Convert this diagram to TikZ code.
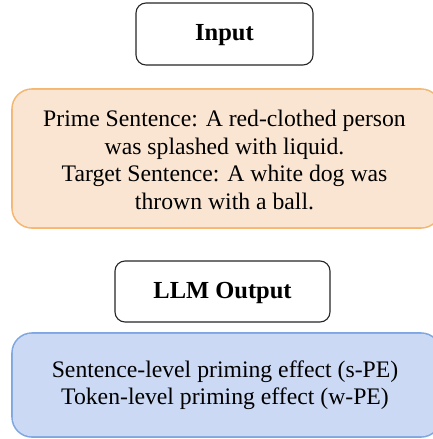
\documentclass[tikz,border=0pt]{standalone}
\usepackage{fontspec}
\setmainfont{Liberation Serif}
\definecolor{peachfill}{RGB}{250,229,210}
\definecolor{peachline}{RGB}{244,182,112}
\definecolor{bluefill}{RGB}{203,217,244}
\definecolor{blueline}{RGB}{126,166,224}
\tikzset{
  labelbox/.style={draw=black!85, line width=1.1pt, rounded corners=10pt, fill=white},
  rim/.style={rounded corners=20.8pt},
  inner/.style={rounded corners=19.2pt},
  boldlabel/.style={font=\fontsize{24.5}{28}\selectfont\bfseries},
  bodytext/.style={align=center, font=\fontsize{23.7}{27.5}\selectfont}
}
\begin{document}
\begin{tikzpicture}[x=1pt, y=-1pt]
  \useasboundingbox (0,0) rectangle (433,439);
  % header box
  \draw[labelbox] (136,3) rectangle (313,65);
  \node[boldlabel] (input) at (224.5,35) {Input};
  % coloured panels, running off the right edge: an outer rim and an inset fill
  \begin{scope}
    \clip (0,0) rectangle (433,439);
    \fill[rim, peachline] (11.2,88.2) rectangle (441.8,228.8);
    \fill[inner, peachfill] (12.8,89.8) rectangle (440.2,227.2);
    \fill[rim, blueline] (11.2,332.2) rectangle (441.8,437.8);
    \fill[inner, bluefill] (12.8,333.8) rectangle (440.2,436.2);
  \end{scope}
  \node[bodytext] (pair) at (224.5,160) {Prime Sentence: A red-clothed person\\was splashed with liquid.\\Target Sentence: A white dog was\\thrown with a ball.};
  % output box
  \draw[labelbox] (115,261) rectangle (330,322);
  \node[boldlabel] (out) at (222.5,292.5) {LLM Output};
  \node[bodytext] (effects) at (225,385) {Sentence-level priming effect (s-PE)\\Token-level priming effect (w-PE)};
\end{tikzpicture}
\end{document}
